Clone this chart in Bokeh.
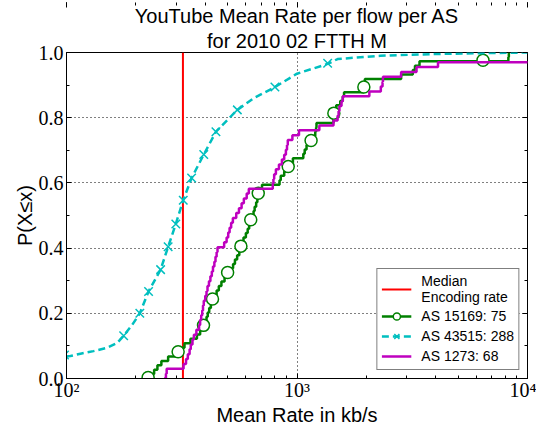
import numpy as np
from bokeh.plotting import figure
from bokeh.models import (Title, LinearAxis, LogAxis, Legend, LegendItem,
                          SingleIntervalTicker, LogTicker, CustomJSTickFormatter,
                          PrintfTickFormatter)
from bokeh.embed import file_html
from bokeh.resources import INLINE

# ---------------- data ----------------
ENCODING_RATE = 320  # kb/s, median encoding rate

# AS 15169 (75 flows): sorted mean rates, kb/s
AS15169_RATES = [226, 232, 240, 248, 258, 276, 305, 315, 325, 345, 368, 380,
                 393, 400, 405, 410, 416, 423, 430, 440, 448, 458, 470, 485,
                 500, 515, 528, 538, 550, 562, 571, 578, 586, 600, 611, 620,
                 630, 640, 648, 655, 665, 673, 679, 690, 705, 840, 850, 880,
                 916, 950, 960, 1065, 1080, 1100, 1151, 1160, 1200, 1210, 1215, 1440,
                 1445, 1460, 1480, 1540, 1580, 1600, 1950, 1960, 1970, 2830, 3180, 3250,
                 3400, 8260, 8300]
AS15169_MARK_X = [226, 305, 393, 430, 500, 571, 630, 679, 916, 1151, 1445, 1950, 6410]
AS15169_MARK_Y = [0.003, 0.082, 0.163, 0.244, 0.325, 0.406, 0.487, 0.568, 0.650,
                  0.730, 0.814, 0.894, 0.976]

# AS 1273 (68 flows): sorted mean rates, kb/s
AS1273_RATES = [265, 270, 272, 322, 330, 336, 342, 346, 352, 357,
                366, 376, 380, 384, 388, 391, 394, 400, 405, 409,
                415, 421, 427, 432, 438, 443, 448, 452, 483, 495,
                503, 510, 518, 527, 545, 560, 575, 588, 605, 618,
                785, 790, 796, 810, 835, 860, 880, 895, 905, 912,
                955, 1020, 1250, 1440, 1500, 1515, 1528, 1560, 1580, 2060,
                2310, 2350, 2360, 2830, 3300, 4090, 12000, 15000]

# AS 43515 (288 flows): CDF curve points
AS43515_X = [80, 90, 104, 115, 131, 150, 166, 177, 193, 208, 227, 256, 276, 298,
             321, 349, 394, 445, 551, 650, 802, 1000, 1358, 1500, 2300, 3800,
             6300, 10000]
AS43515_Y = [0.060, 0.064, 0.069, 0.076, 0.084, 0.094, 0.109, 0.131, 0.165, 0.200,
             0.267, 0.334, 0.404, 0.474, 0.547, 0.615, 0.687, 0.757, 0.824, 0.860,
             0.894, 0.935, 0.965, 0.980, 0.990, 0.995, 0.998, 1.0]
AS43515_MARK_X = [98, 177, 208, 227, 256, 276, 298, 321, 349, 394, 445, 551, 802, 1358]
AS43515_MARK_Y = [0.072, 0.131, 0.200, 0.267, 0.334, 0.404, 0.474, 0.547, 0.615,
                  0.687, 0.757, 0.824, 0.894, 0.967]

LABELS = ["Median\nEncoding rate", "AS 15169: 75", "AS 43515: 288", "AS 1273: 68"]
TITLE1 = "YouTube Mean Rate per flow per AS"
TITLE2 = "for 2010 02 FTTH M"
XLABEL = "Mean Rate in kb/s"
YLABEL = "P(X\u2264x)"

RED = "#ff0000"
GREEN = "#008000"
CYAN = "#00bfbf"
MAGENTA = "#bf00bf"

SANS = "Liberation Sans"
SERIF = "Liberation Serif"


def ecdf(vals):
    v = np.sort(np.asarray(vals, dtype=float))
    return v, np.arange(len(v)) / (len(v) - 1)


p = figure(width=536, height=428, x_axis_type="log", x_range=(100, 10000),
           y_range=(0, 1), output_backend="svg", toolbar_location=None,
           min_border_left=66, min_border_right=9, min_border_top=52,
           min_border_bottom=47)
p.background_fill_color = "white"
p.border_fill_color = "white"
p.outline_line_color = "black"
p.outline_line_width = 1

# titles (added bottom line first)
p.add_layout(Title(text=TITLE2, align="center", text_font=SANS, text_font_size="20px",
                   text_font_style="normal", text_color="black", standoff=2), "above")
p.add_layout(Title(text=TITLE1, align="center", text_font=SANS, text_font_size="20px",
                   text_font_style="normal", text_color="black", standoff=0), "above")

# axes
xa = p.xaxis[0]
xa.ticker = LogTicker(num_minor_ticks=10)
xa.formatter = CustomJSTickFormatter(code="""
const e = Math.round(Math.log10(tick));
const sup = {2: '\u00b2', 3: '\u00b3', 4: '\u2074'};
return '10' + (sup[e] || '');
""")
ya = p.yaxis[0]
ya.ticker = SingleIntervalTicker(interval=0.2, num_minor_ticks=2)
ya.formatter = PrintfTickFormatter(format="%.1f")
for ax in (xa, ya):
    ax.major_tick_in = 5
    ax.major_tick_out = 0
    ax.minor_tick_in = 3
    ax.minor_tick_out = 0
    ax.major_label_text_font = SERIF
    ax.major_label_text_font_size = "20px"
    ax.major_label_text_color = "black"
    ax.axis_line_color = "black"
    ax.major_tick_line_color = "black"
    ax.minor_tick_line_color = "black"
    ax.axis_label_text_font = SANS
    ax.axis_label_text_font_size = "20px"
    ax.axis_label_text_font_style = "normal"
    ax.axis_label_text_color = "black"
    ax.axis_label_text_line_height = 1.0
xa.axis_label = XLABEL
ya.axis_label = YLABEL
xa.major_label_standoff = 0
ya.major_label_standoff = 3
xa.axis_label_standoff = 0
ya.axis_label_standoff = 0

blank = CustomJSTickFormatter(code="return '';")
top = LogAxis(ticker=LogTicker(num_minor_ticks=10), formatter=blank,
              major_tick_in=5, major_tick_out=0, minor_tick_in=3, minor_tick_out=0,
              major_label_text_font_size="1px", major_label_standoff=0,
              axis_label_standoff=0, axis_line_color=None)
right = LinearAxis(ticker=SingleIntervalTicker(interval=0.2, num_minor_ticks=2),
                   formatter=blank, major_tick_in=5, major_tick_out=0,
                   minor_tick_in=3, minor_tick_out=0,
                   major_label_text_font_size="1px", major_label_standoff=0,
                   axis_label_standoff=0, axis_line_color=None)
p.add_layout(top, "above")
p.add_layout(right, "right")

# grid
for g in (p.xgrid[0], p.ygrid[0]):
    g.grid_line_color = "black"
    g.grid_line_dash = "1 3"
    g.grid_line_width = 1
    g.grid_line_alpha = 1.0
p.xgrid[0].ticker = LogTicker()
p.ygrid[0].ticker = SingleIntervalTicker(interval=0.2)

# series
r_red = p.line([ENCODING_RATE, ENCODING_RATE], [0, 1], line_color=RED, line_width=2)

gx, gy = ecdf(AS15169_RATES)
r_g = p.step(gx, gy, mode="after", line_color=GREEN, line_width=2.5)
r_gm = p.scatter(AS15169_MARK_X, AS15169_MARK_Y, marker="circle", size=12,
                 line_color=GREEN, fill_color="white", line_width=1.5)

r_c = p.line(AS43515_X, AS43515_Y, line_color=CYAN, line_width=2.5, line_dash="7 4")
r_cm = p.scatter(AS43515_MARK_X, AS43515_MARK_Y, marker="x", size=12,
                 line_color=CYAN, line_width=1.5)

mx, my = ecdf(AS1273_RATES)
r_m = p.step(mx, my, mode="after", line_color=MAGENTA, line_width=2.5)

legend = Legend(items=[
    LegendItem(label=LABELS[0], renderers=[r_red]),
    LegendItem(label=LABELS[1], renderers=[r_g, r_gm]),
    LegendItem(label=LABELS[2], renderers=[r_c, r_cm]),
    LegendItem(label=LABELS[3], renderers=[r_m]),
], location="bottom_right")
legend.label_text_font = SANS
legend.label_text_font_size = "14px"
legend.label_text_color = "black"
legend.glyph_width = 30
legend.glyph_height = 18
legend.label_height = 18
legend.label_standoff = 10
legend.spacing = 2
legend.padding = 4
legend.margin = 8
legend.border_line_color = "black"
legend.border_line_width = 1
legend.background_fill_color = "white"
legend.background_fill_alpha = 1
p.add_layout(legend)

open("out.html", "w").write(file_html(p, INLINE))
